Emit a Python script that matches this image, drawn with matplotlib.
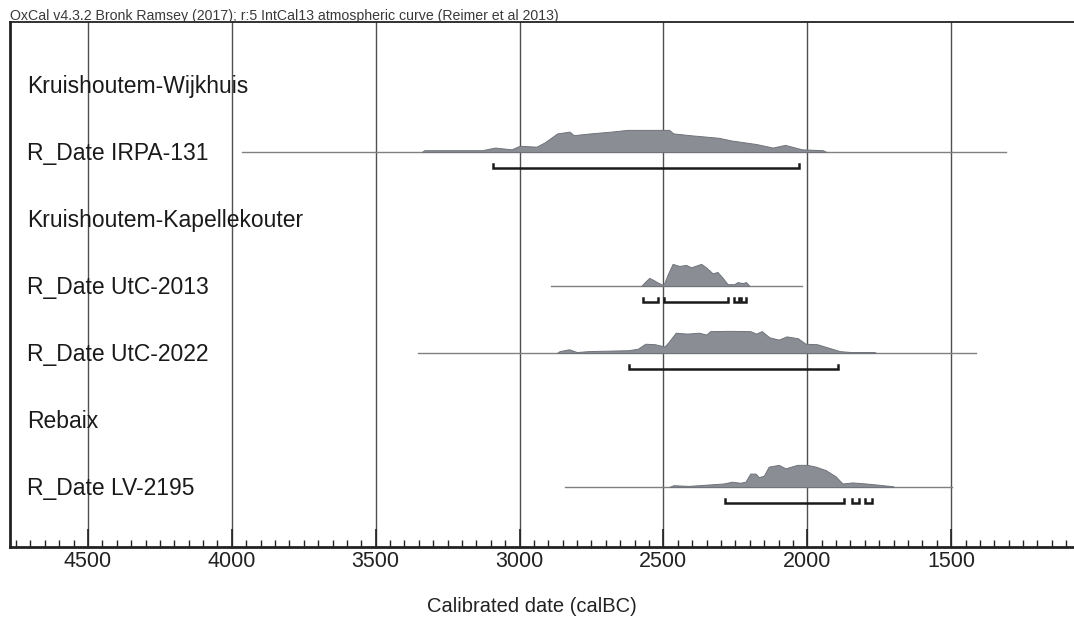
import matplotlib.pyplot as plt
from matplotlib.ticker import MultipleLocator
import matplotlib.transforms as mtransforms

plt.rcParams["font.family"] = ["Liberation Sans", "DejaVu Sans"]

# row labels, top to bottom
row_labels = [
    "Kruishoutem-Wijkhuis",
    "R_Date IRPA-131",
    "Kruishoutem-Kapellekouter",
    "R_Date UtC-2013",
    "R_Date UtC-2022",
    "Rebaix",
    "R_Date LV-2195",
]

# calibrated distributions (calBC, relative probability)
irpa_years = [3340, 3331, 3130, 3085, 3028, 2999, 2941, 2912, 2869, 2826, 2812, 2754,
              2682, 2624, 2480, 2466, 2408, 2307, 2264, 2178, 2120, 2077, 2019, 1947, 1933]
irpa_prob = [0, 2, 2, 5, 3, 7, 6, 11, 21, 23, 19, 21, 23, 25, 25, 21, 19, 16, 13, 9, 5, 8, 3, 2, 0]
irpa_span = (3965, 1309)
irpa_ranges = [(3094, 2028)]

utc2013_years = [2577, 2566, 2549, 2537, 2520, 2502, 2497, 2485, 2468, 2445, 2421, 2404,
                 2369, 2352, 2329, 2312, 2294, 2277, 2254, 2242, 2225, 2213, 2201]
utc2013_prob = [0, 3.3, 7.7, 6, 3.3, 1, 2.7, 11, 21, 19, 20, 17.7,
                21, 17.7, 12, 13.3, 7.7, 1.7, 1.7, 3.7, 2.7, 3.7, 0]
utc2013_span = (2889, 2017)
utc2013_ranges = [(2572, 2520), (2497, 2277), (2254, 2236), (2230, 2213)]

utc2022_years = [2870, 2861, 2828, 2801, 2761, 2622, 2589, 2563, 2530, 2496, 2483, 2457,
                 2417, 2377, 2351, 2337, 2271, 2198, 2178, 2158, 2132, 2099, 2072, 2033,
                 2006, 1966, 1926, 1887, 1847, 1767, 1761]
utc2022_prob = [0, 2, 4, 1, 2, 3, 4.6, 10, 9.5, 7, 11.5, 22,
                21, 22, 20, 23.7, 24, 23.7, 21, 23.7, 17, 14.5, 18, 16,
                10, 9.5, 5.7, 2, 1, 1, 0]
utc2022_span = (3353, 1412)
utc2022_ranges = [(2620, 1893)]

lv2195_years = [2480, 2465, 2413, 2291, 2262, 2233, 2215, 2198, 2180, 2169, 2151, 2134,
                2099, 2076, 2035, 2000, 1971, 1936, 1901, 1878, 1843, 1797, 1773, 1738,
                1703, 1698]
lv2195_prob = [0, 1.7, 1, 3.3, 5, 4, 5, 12.7, 12.7, 9.3, 10.7, 19.3,
               21, 17.7, 21, 21, 19.3, 16, 10, 3.3, 4.3, 3.3, 2.7, 1.7,
               0.7, 0]
lv2195_span = (2842, 1496)
lv2195_ranges = [(2287, 1872), (1845, 1820), (1799, 1775)]

dates = [
    (1, irpa_years, irpa_prob, irpa_span, irpa_ranges),
    (3, utc2013_years, utc2013_prob, utc2013_span, utc2013_ranges),
    (4, utc2022_years, utc2022_prob, utc2022_span, utc2022_ranges),
    (6, lv2195_years, lv2195_prob, lv2195_span, lv2195_ranges),
]

fig = plt.figure(figsize=(10.74, 6.22), dpi=100)
ax = fig.add_axes([10 / 1074, 75 / 622, 1064 / 1074, 525 / 622])
ax.set_xlim(4771, 1073)
ax.set_ylim(6.896, -0.94)

peak_h = 0.33
for row, years, prob, span, ranges in dates:
    ax.plot(span, [row, row], color="#808080", lw=1, zorder=2)
    top = max(prob)
    tops = [row - p / top * peak_h for p in prob]
    ax.fill_between(years, row, tops, color="#8a8d93", edgecolor="#70737a",
                    lw=0.7, zorder=3)
    by = row + 0.24
    for a, b in ranges:
        ax.plot([a, a, b, b], [by - 0.06, by, by, by - 0.06], color="#1a1a1a",
                lw=1.8, solid_joinstyle="miter", zorder=4)

trans = mtransforms.blended_transform_factory(ax.transAxes, ax.transData)
for i, lab in enumerate(row_labels):
    ax.text(0.016, i + 0.02, lab, transform=trans, fontsize=16.5, va="center",
            ha="left", color="#1a1a1a", zorder=5)

ax.xaxis.set_major_locator(MultipleLocator(500))
ax.xaxis.set_minor_locator(MultipleLocator(50))
ax.xaxis.set_major_formatter(lambda v, p: f"{int(v)}")
ax.tick_params(axis="x", which="major", direction="in", length=13, width=1.2,
               pad=3, labelsize=15.5, colors="#222222")
ax.tick_params(axis="x", which="minor", direction="in", length=5, width=1,
               colors="#222222")
ax.set_yticks([])
ax.grid(axis="x", which="major", color="#505050", lw=1)

ax.spines["right"].set_visible(False)
ax.spines["left"].set_linewidth(2)
ax.spines["bottom"].set_linewidth(2)
ax.spines["top"].set_linewidth(1.3)
for s in ax.spines.values():
    s.set_color("#222222")

fig.text(10 / 1074, 1 - 20 / 622,
         "OxCal v4.3.2 Bronk Ramsey (2017); r:5 IntCal13 atmospheric curve (Reimer et al 2013)",
         fontsize=10.2, va="baseline", ha="left", color="#3a3a3a")
fig.text(532 / 1074, 15 / 622, "Calibrated date (calBC)", fontsize=14.5,
         ha="center", va="center", color="#222222")

fig.savefig("out.png", dpi=100)
